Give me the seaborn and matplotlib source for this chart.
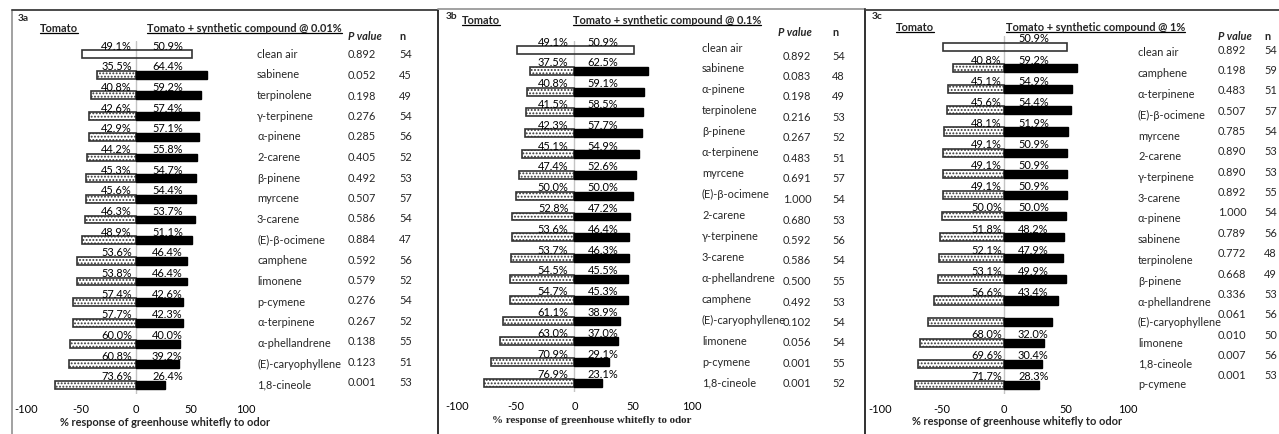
import matplotlib
matplotlib.use("Agg")
import matplotlib.pyplot as plt
import pandas as pd
import seaborn as sns
from matplotlib.lines import Line2D

# ---------------- data ----------------
compounds_a = ["clean air", "sabinene", "terpinolene", "γ-terpinene", "α-pinene", "2-carene",
               "β-pinene", "myrcene", "3-carene", "(E)-β-ocimene", "camphene", "limonene",
               "p-cymene", "α-terpinene", "α-phellandrene", "(E)-caryophyllene", "1,8-cineole"]
tomato_a = [49.1, 35.5, 40.8, 42.6, 42.9, 44.2, 45.3, 45.6, 46.3, 48.9, 53.6, 53.8, 57.4, 57.7, 60.0, 60.8, 73.6]
blend_a = [50.9, 64.4, 59.2, 57.4, 57.1, 55.8, 54.7, 54.4, 53.7, 51.1, 46.4, 46.4, 42.6, 42.3, 40.0, 39.2, 26.4]
pvalue_a = ["0.892", "0.052", "0.198", "0.276", "0.285", "0.405", "0.492", "0.507", "0.586",
            "0.884", "0.592", "0.579", "0.276", "0.267", "0.138", "0.123", "0.001"]
n_a = [54, 45, 49, 54, 56, 52, 53, 57, 54, 47, 56, 52, 54, 52, 55, 51, 53]

compounds_b = ["clean air", "sabinene", "α-pinene", "terpinolene", "β-pinene", "α-terpinene",
               "myrcene", "(E)-β-ocimene", "2-carene", "γ-terpinene", "3-carene", "α-phellandrene",
               "camphene", "(E)-caryophyllene", "limonene", "p-cymene", "1,8-cineole"]
tomato_b = [49.1, 37.5, 40.8, 41.5, 42.3, 45.1, 47.4, 50.0, 52.8, 53.6, 53.7, 54.5, 54.7, 61.1, 63.0, 70.9, 76.9]
blend_b = [50.9, 62.5, 59.1, 58.5, 57.7, 54.9, 52.6, 50.0, 47.2, 46.4, 46.3, 45.5, 45.3, 38.9, 37.0, 29.1, 23.1]
pvalue_b = ["0.892", "0.083", "0.198", "0.216", "0.267", "0.483", "0.691", "1.000", "0.680",
            "0.592", "0.586", "0.500", "0.492", "0.102", "0.056", "0.001", "0.001"]
n_b = [54, 48, 49, 53, 52, 51, 57, 54, 53, 56, 54, 55, 53, 54, 54, 55, 52]

compounds_c = ["clean air", "camphene", "α-terpinene", "(E)-β-ocimene", "myrcene", "2-carene",
               "γ-terpinene", "3-carene", "α-pinene", "sabinene", "terpinolene", "β-pinene",
               "α-phellandrene", "(E)-caryophyllene", "limonene", "1,8-cineole", "p-cymene"]
tomato_c = [49.1, 40.8, 45.1, 45.6, 48.1, 49.1, 49.1, 49.1, 50.0, 51.8, 52.1, 53.1, 56.6, 61.5, 68.0, 69.6, 71.7]
blend_c = [50.9, 59.2, 54.9, 54.4, 51.9, 50.9, 50.9, 50.9, 50.0, 48.2, 47.9, 49.9, 43.4, 38.5, 32.0, 30.4, 28.3]
pvalue_c = ["0.892", "0.198", "0.483", "0.507", "0.785", "0.890", "0.890", "0.892", "1.000",
            "0.789", "0.772", "0.668", "0.336", "0.061", "0.010", "0.007", "0.001"]
n_c = [54, 59, 51, 57, 54, 53, 53, 55, 54, 56, 48, 49, 53, 56, 50, 56, 53]
# percentage labels printed for each row (left, right)
shown_left_c = [False] + [True] * 12 + [False] + [True] * 3
shown_right_c = [True] * 13 + [False] + [True] * 3

tick_values = [-100, -50, 0, 50, 100]
axis_title = "% response of greenhouse whitefly to odor"

# ---------------- figure ----------------
W, H = 1279, 435
sns.set_theme(style="white")
plt.rcParams["font.family"] = ["Lato", "DejaVu Sans"]
plt.rcParams["hatch.linewidth"] = 0.9
fig = plt.figure(figsize=(W / 100, H / 100), dpi=100)
fig.patch.set_facecolor("white")

FS = 7.9
EDGE = "#333333"


def fx(px):
    return px / W


def fy(py):
    return 1 - py / H


panels = [
    dict(tag="3a", header="Tomato + synthetic compound @ 0.01%",
         names=compounds_a, left=tomato_a, right=blend_a, pv=pvalue_a, n=n_a,
         show_l=[True] * 17, show_r=[True] * 17,
         xaxis=(26, 246), span=(42, 395), rows=(55, 386),
         name_col=(257, 54, 385), pv_col=(348, 55, 383), n_x=399,
         tick_y=409, xlab=(165, 423), xlab_family=["Lato", "DejaVu Sans"],
         tag_pos=(18, 21), tomato_pos=(40, 32), head_pos=(147, 32),
         pvh=(348, 40), nh=(399, 40), ldx=-4, rdx=16),
    dict(tag="3b", header="Tomato + synthetic compound @ 0.1%",
         names=compounds_b, left=tomato_b, right=blend_b, pv=pvalue_b, n=n_b,
         show_l=[True] * 17, show_r=[True] * 17,
         xaxis=(457, 692), span=(42, 393), rows=(51, 384),
         name_col=(702, 48, 383), pv_col=(783, 56, 384), n_x=832,
         tick_y=406, xlab=(592, 421), xlab_family=["Liberation Serif"],
         tag_pos=(446, 19), tomato_pos=(462, 24), head_pos=(573, 24),
         pvh=(778, 36), nh=(832, 36), ldx=-6, rdx=13),
    dict(tag="3c", header="Tomato + synthetic compound @ 1%",
         names=compounds_c, left=tomato_c, right=blend_c, pv=pvalue_c, n=n_c,
         show_l=shown_left_c, show_r=shown_right_c,
         xaxis=(880, 1128), span=(37, 395), rows=(48, 386),
         name_col=(1138, 53, 385), pv_col=(1218, 50, 376), n_x=1264,
         tick_y=409, xlab=(1017, 422), xlab_family=["Lato", "DejaVu Sans"],
         tag_pos=(872, 19), tomato_pos=(896, 31), head_pos=(1006, 31),
         pvh=(1218, 40), nh=(1264, 40), ldx=-2, rdx=14),
]

underlined = []

for p in panels:
    x0, x1 = p["xaxis"]
    top, bot = p["span"]
    r0, rl = p["rows"]
    nrow = len(p["names"])
    sp = (rl - r0) / (nrow - 1)
    ax = fig.add_axes([fx(x0), fy(bot), fx(x1 - x0), (bot - top) / H])
    ax.set_facecolor("none")

    df = pd.DataFrame({"compound": p["names"],
                       "tomato": [-v for v in p["left"]],
                       "blend": p["right"]})
    treated = df.iloc[1:]
    order = p["names"]
    bar_h = 0.38

    ax.axvline(0, color="#c4c4c4", lw=1.0, zorder=0)
    sns.barplot(data=treated, x="tomato", y="compound", order=order, orient="h",
                color="white", saturation=1, width=bar_h, edgecolor=EDGE,
                linewidth=1.2, hatch=".....", ax=ax, zorder=2)
    sns.barplot(data=treated, x="blend", y="compound", order=order, orient="h",
                color="black", saturation=1, width=bar_h, edgecolor="black",
                linewidth=1.0, ax=ax, zorder=2)
    # clean air control drawn as a single open bar
    ax.barh(0, p["left"][0] + p["right"][0], left=-p["left"][0], height=bar_h,
            fill=False, edgecolor=EDGE, linewidth=1.2, zorder=2)

    ax.set_xlim(-100, 100)
    ax.set_ylim((bot - r0) / sp, (top - r0) / sp)
    for s in ax.spines.values():
        s.set_visible(False)
    ax.set_yticks([])
    ax.set_ylabel("")
    ax.set_xlabel("")
    ax.set_xticks(tick_values)
    ax.set_xticklabels([str(t) for t in tick_values])
    pad_px = p["tick_y"] - bot - 5
    ax.tick_params(axis="x", length=0, pad=pad_px * 0.72, labelsize=FS, colors="black")
    ax.grid(False)

    # percentage labels above each bar
    for i in range(nrow):
        if p["show_l"][i]:
            ax.annotate(f"{p['left'][i]:.1f}%", xy=(0, i), xytext=(p["ldx"] * 0.72, 5.5 * 0.72),
                        textcoords="offset points", ha="right", va="baseline",
                        fontsize=FS, color="black", zorder=3)
        if p["show_r"][i]:
            ax.annotate(f"{p['right'][i]:.1f}%", xy=(0, i), xytext=(p["rdx"] * 0.72, 5.5 * 0.72),
                        textcoords="offset points", ha="left", va="baseline",
                        fontsize=FS, color="black", zorder=3)

    # compound names, P values and sample sizes
    nx, ny0, ny1 = p["name_col"]
    px_, py0, py1 = p["pv_col"]
    for i in range(nrow):
        yn = ny0 + (ny1 - ny0) * i / (nrow - 1)
        yp = py0 + (py1 - py0) * i / (nrow - 1)
        fig.text(fx(nx), fy(yn), p["names"][i], fontsize=FS, ha="left", va="center")
        fig.text(fx(px_), fy(yp), p["pv"][i], fontsize=FS, ha="left", va="center")
        fig.text(fx(p["n_x"]), fy(yp), str(p["n"][i]), fontsize=FS, ha="left", va="center")

    # headers
    fig.text(fx(p["tag_pos"][0]), fy(p["tag_pos"][1]), p["tag"], fontsize=FS - 0.6,
             fontweight="bold", ha="left", va="baseline")
    t1 = fig.text(fx(p["tomato_pos"][0]), fy(p["tomato_pos"][1]), "Tomato", fontsize=FS,
                  fontweight="bold", ha="left", va="baseline")
    t2 = fig.text(fx(p["head_pos"][0]), fy(p["head_pos"][1]), p["header"], fontsize=FS,
                  fontweight="bold", ha="left", va="baseline")
    underlined += [(t1, p["tomato_pos"][1]), (t2, p["head_pos"][1])]
    fig.text(fx(p["pvh"][0]), fy(p["pvh"][1]), "P value", fontsize=FS, fontweight="bold",
             fontstyle="italic", ha="left", va="baseline")
    fig.text(fx(p["nh"][0]), fy(p["nh"][1]), "n", fontsize=FS, fontweight="bold",
             ha="left", va="baseline")
    fig.text(fx(p["xlab"][0]), fy(p["xlab"][1]), axis_title, fontsize=FS,
             fontweight="bold", ha="center", va="center", family=p["xlab_family"])

# panel frames
frame = [((12, 12), (11, H), "#9a9a9a"),
         ((12, 438), (11, 11), "#3c3c3c"),
         ((438, 438), (11, H), "#202020"),
         ((438, 865), (10, 10), "#9a9a9a"),
         ((865, 865), (10, H), "#202020"),
         ((865, W), (11, 11), "#3c3c3c")]
for xs, ys, c in frame:
    fig.add_artist(Line2D([fx(xs[0]), fx(xs[1])], [fy(ys[0]), fy(ys[1])],
                          transform=fig.transFigure, color=c, lw=1.3))

# underline the group headers
fig.canvas.draw()
renderer = fig.canvas.get_renderer()
for t, base in underlined:
    bb = t.get_window_extent(renderer)
    yy = fy(base + 1.6)
    fig.add_artist(Line2D([bb.x0 / W, bb.x1 / W], [yy, yy], transform=fig.transFigure,
                          color="black", lw=0.9))

fig.savefig("out.png", dpi=100, facecolor="white")
